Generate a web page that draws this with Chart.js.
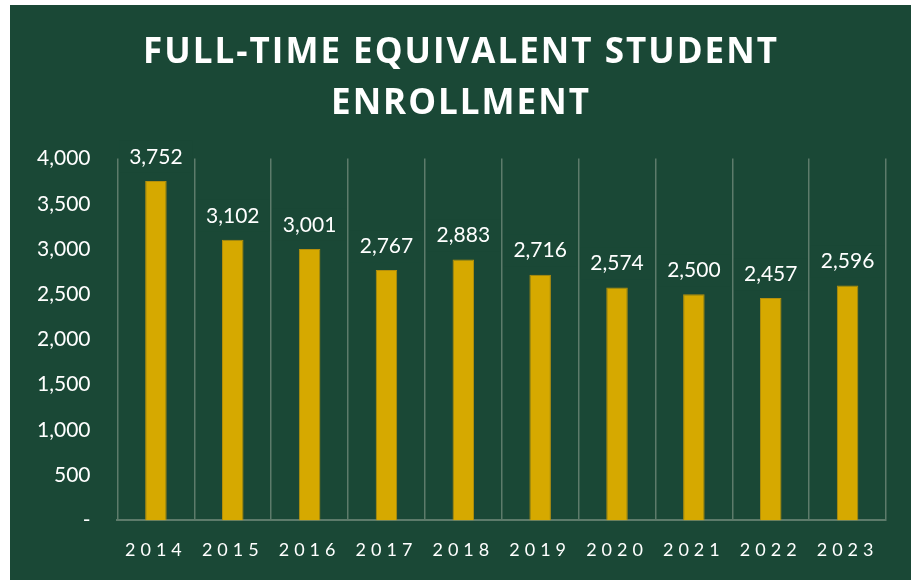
<!DOCTYPE html>
<html>
<head>
<meta charset="utf-8">
<script src="https://cdn.jsdelivr.net/npm/chart.js@4.4.1/dist/chart.umd.min.js"></script>
<style>
  html, body { margin: 0; padding: 0; background: #ffffff; }
  #wrap { position: absolute; left: 10px; top: 5px; width: 901px; height: 575px; background: #1a4836; }
</style>
</head>
<body>
<div id="wrap"><canvas id="enrollChart" width="901" height="575"></canvas></div>
<script>
// Datos del gráfico
const years = ['2014', '2015', '2016', '2017', '2018', '2019', '2020', '2021', '2022', '2023'];
const fteValues = [3752, 3102, 3001, 2767, 2883, 2716, 2574, 2500, 2457, 2596];
const titleLines = ['FULL-TIME EQUIVALENT STUDENT', 'ENROLLMENT'];

const bgGreen = '#1a4836';
const gridGray = '#5d7b6b';
const fontFamily = 'Lato, "Open Sans", sans-serif';

// Etiquetas de valores encima de cada barra, con fondo verde
const valueLabels = {
    id: 'valueLabels',
    afterDatasetsDraw(chart) {
        const ctx = chart.ctx;
        const meta = chart.getDatasetMeta(0);
        ctx.save();
        ctx.font = '21px ' + fontFamily;
        ctx.textAlign = 'center';
        ctx.textBaseline = 'middle';
        meta.data.forEach((bar, i) => {
            const text = fteValues[i].toLocaleString('en-US');
            const w = ctx.measureText(text).width + 20;
            const cy = bar.y - 24;
            ctx.fillStyle = bgGreen;
            ctx.fillRect(bar.x - w / 2, cy - 16, w, 32);
            ctx.fillStyle = '#ffffff';
            ctx.fillText(text, bar.x, cy);
        });
        ctx.restore();
    }
};

// Espaciado de letras para el título y los años
const letterSpacing = {
    id: 'letterSpacing',
    afterLayout(chart) {
        const ctx = chart.ctx;
        const xs = chart.scales.x;
        if (!xs._spaced) {
            const orig = xs.drawLabels.bind(xs);
            xs.drawLabels = function (area) {
                ctx.save();
                ctx.letterSpacing = '5px';
                orig(area);
                ctx.restore();
            };
            xs._spaced = true;
        }
        const tb = chart.titleBlock;
        if (tb && !tb._spaced) {
            const origT = tb.draw.bind(tb);
            tb.draw = function () {
                ctx.save();
                ctx.translate(13, 0); // centrar en todo el lienzo
                ctx.letterSpacing = '2px';
                origT();
                ctx.restore();
            };
            tb._spaced = true;
        }
    }
};

const ctxEnroll = document.getElementById('enrollChart').getContext('2d');
const enrollChart = new Chart(ctxEnroll, {
    type: 'bar',
    data: {
        labels: years,
        datasets: [{
            data: fteValues,
            backgroundColor: '#d6a900',
            borderColor: '#b58f0c',
            borderWidth: 1,
            barPercentage: 0.28,
            categoryPercentage: 1
        }]
    },
    options: {
        responsive: false,
        animation: false,
        layout: { padding: { left: 0, right: 25, top: 0, bottom: 0 } },
        plugins: {
            legend: { display: false },
            tooltip: { enabled: false },
            title: {
                display: true,
                text: titleLines,
                color: '#ffffff',
                font: { family: '"Open Sans", sans-serif', size: 35, weight: 'bold', lineHeight: 1.45 },
                padding: { top: 23, bottom: 29 }
            }
        },
        scales: {
            x: {
                grid: { display: true, color: gridGray, lineWidth: 1.5, offset: true, drawTicks: false },
                border: { display: true, color: gridGray, width: 2 },
                ticks: { color: '#ffffff', font: { family: fontFamily, size: 18 }, padding: 19 }
            },
            y: {
                min: 0,
                max: 4000,
                grid: { display: false, drawTicks: false },
                border: { display: false },
                ticks: {
                    stepSize: 500,
                    color: '#ffffff',
                    padding: 27,
                    font: { family: fontFamily, size: 21 },
                    callback: (value) => value === 0 ? '-' : value.toLocaleString('en-US')
                }
            }
        }
    },
    plugins: [valueLabels, letterSpacing]
});
enrollChart.draw();
</script>
</body>
</html>
